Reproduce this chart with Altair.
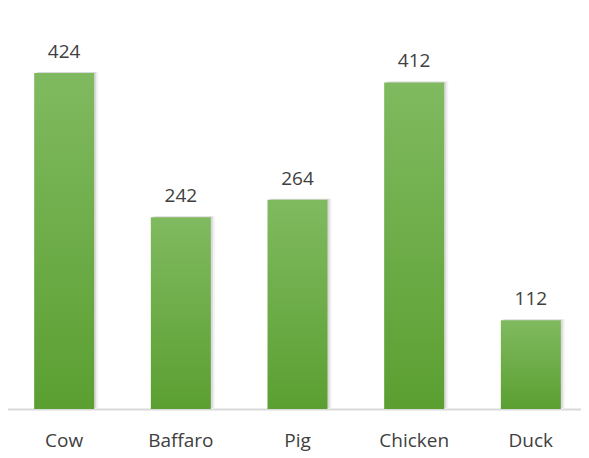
import altair as alt
import pandas as pd

animals = ["Cow", "Baffaro", "Pig", "Chicken", "Duck"]
counts = [424, 242, 264, 412, 112]

df = pd.DataFrame({"animal": animals, "count": counts})

FONT = "Open Sans"

x = alt.X(
    "animal:N",
    sort=animals,
    scale=alt.Scale(range=[-1, 580], paddingInner=0.484, paddingOuter=0.232),
    axis=alt.Axis(
        title=None, domain=True, domainColor="#d9d9d9", domainWidth=2,
        ticks=False, grid=False, labelAngle=0,
        labelFont=FONT, labelFontSize=19, labelColor="#404040", labelPadding=22,
    ),
)
y = alt.Y("count:Q", scale=alt.Scale(domain=[0, 506], nice=False), axis=None)

base = alt.Chart(df)

shadow1 = base.mark_bar(color="#000000", opacity=0.10, size=60, xOffset=2, yOffset=-1).encode(x=x, y=y)
shadow2 = base.mark_bar(color="#000000", opacity=0.05, size=60, xOffset=4, yOffset=-1).encode(x=x, y=y)

bars = base.mark_bar(
    color=alt.Gradient(
        gradient="linear",
        stops=[
            alt.GradientStop(color="#80ba60", offset=0),
            alt.GradientStop(color="#5b9f31", offset=1),
        ],
        x1=0, x2=0, y1=0, y2=1,
    ),
    size=60,
).encode(x=x, y=y)

labels = base.mark_text(
    baseline="bottom", dy=-11, font=FONT, fontSize=19, color="#404040"
).encode(x=x, y=y, text="count:Q")

chart = (
    alt.layer(shadow2, shadow1, bars, labels)
    .properties(
        width=573,
        height=401,
        autosize=alt.AutoSizeParams(type="none"),
        padding={"left": 0, "top": 0, "right": 0, "bottom": 48},
        view=alt.ViewBackground(stroke="white", strokeWidth=0, strokeOpacity=0),
    )
    .configure_view(stroke="white", strokeWidth=0, strokeOpacity=0)
    .configure_axis(grid=False)
    .configure(background="white")
)

chart.save("out.html", embed_options={"renderer": "svg", "actions": False})
